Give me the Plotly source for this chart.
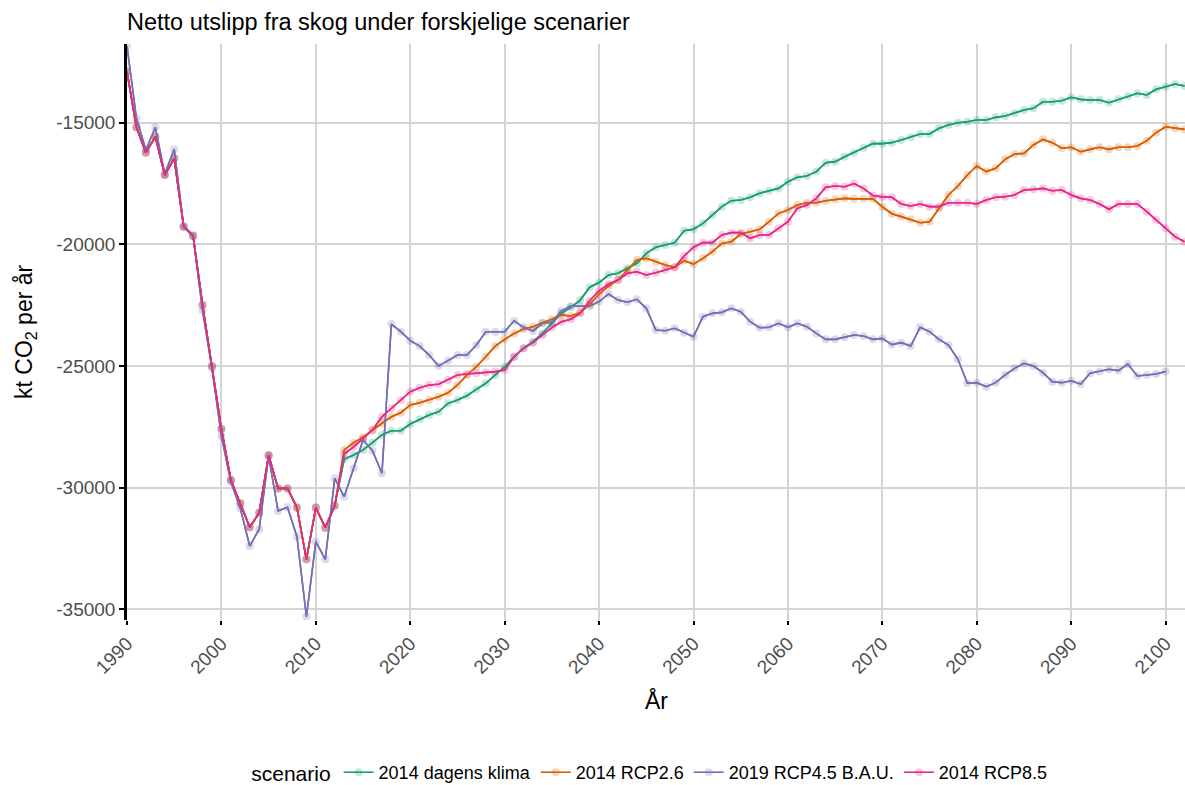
import plotly.graph_objects as go

# ---- data -------------------------------------------------------------
hist_years = list(range(1990, 2013))
future_years = list(range(2013, 2103))
bau_years = list(range(1990, 2101))

# shared historical series (1990-2012) for the 2014 projections
hist_2014 = [
    -12900, -15190, -16230, -15575, -17150, -16465, -19275, -19660, -22490, -25000,
    -27590, -29685, -30640, -31630, -31030, -28670, -30030, -30030, -30820, -32945,
    -30820, -31645, -30740,
]

dagens_klima = [
    -28835, -28660, -28450, -28150, -27835, -27660, -27660, -27385, -27190, -27015,
    -26880, -26535, -26400, -26220, -25960, -25710, -25370, -25030, -24620, -24270,
    -24000, -23660, -23245, -22835, -22590, -22290, -21760, -21570, -21260, -21190,
    -20985, -20780, -20370, -20120, -20030, -19930, -19440, -19380, -19135, -18795,
    -18450, -18205, -18175, -18065, -17900, -17795, -17700, -17425, -17245, -17190,
    -17010, -16645, -16600, -16400, -16230, -16030, -15860, -15860, -15820, -15710,
    -15600, -15465, -15465, -15230, -15095, -15000, -14960, -14890, -14890, -14780,
    -14725, -14615, -14480, -14410, -14140, -14140, -14095, -13955, -14040, -14070,
    -14070, -14180, -14040, -13900, -13790, -13860, -13625, -13520, -13410, -13490,
]

rcp26 = [
    -28450, -28150, -27930, -27630, -27355, -27085, -26920, -26600, -26510, -26400,
    -26260, -26100, -25780, -25370, -25030, -24620, -24180, -23905, -23660, -23480,
    -23385, -23220, -23080, -22900, -22945, -22800, -22470, -22050, -21710, -21465,
    -21055, -20645, -20575, -20710, -20850, -20945, -20670, -20810, -20575, -20300,
    -19960, -19890, -19575, -19480, -19380, -19070, -18725, -18590, -18385, -18290,
    -18290, -18205, -18150, -18110, -18130, -18130, -18130, -18460, -18740, -18860,
    -18970, -19110, -19070, -18520, -17970, -17600, -17150, -16780, -17010, -16875,
    -16505, -16285, -16260, -15915, -15685, -15820, -16050, -16010, -16190, -16095,
    -16010, -16095, -16010, -16010, -15960, -15740, -15410, -15165, -15230, -15275,
]

rcp85 = [
    -28620, -28320, -27975, -27630, -27085, -26740, -26400, -26055, -25890, -25780,
    -25750, -25575, -25370, -25330, -25300, -25270, -25230, -25165, -24620, -24270,
    -24040, -23725, -23420, -23180, -23080, -22835, -22320, -21910, -21630, -21465,
    -21190, -21125, -21260, -21165, -21055, -20945, -20480, -20120, -19930, -19930,
    -19615, -19520, -19520, -19750, -19615, -19615, -19340, -19070, -18520, -18385,
    -18110, -17655, -17600, -17630, -17500, -17700, -17990, -18050, -18065, -18340,
    -18425, -18340, -18450, -18450, -18290, -18290, -18290, -18340, -18175, -18065,
    -18040, -17970, -17765, -17740, -17700, -17795, -17765, -17970, -18110, -18175,
    -18340, -18560, -18340, -18340, -18340, -18655, -19000, -19340, -19685, -19890,
]

rcp45_bau_2019 = [
    -11850, -14820, -16120, -15190, -17100, -16095, -19250, -19620, -22720, -25100,
    -27877, -29770, -30850, -32400, -31710, -28700, -30960, -30810, -32015, -35300,
    -32220, -32945, -29615, -30370, -29205, -28040, -28480, -29410, -23274, -23590,
    -23960, -24180, -24550, -25000, -24780, -24550, -24550, -24140, -23590, -23590,
    -23590, -23140, -23410, -23560, -23245, -23200, -22730, -22535, -22535, -22545,
    -22350, -22040, -22290, -22380, -22260, -22630, -23520, -23550, -23450, -23630,
    -23795, -22975, -22835, -22795, -22630, -22770, -23180, -23425, -23410, -23245,
    -23410, -23245, -23385, -23660, -23905, -23905, -23820, -23725, -23765, -23905,
    -23865, -24120, -24040, -24180, -23410, -23590, -23905, -24140, -24725, -25710,
    -25685, -25850, -25685, -25370, -25095, -24890, -25000, -25275, -25645, -25685,
    -25605, -25740, -25300, -25230, -25135, -25190, -24920, -25410, -25370, -25330,
    -25230,
]

y_ticks = [-35000, -30000, -25000, -20000, -15000]
x_ticks = list(range(1990, 2101, 10))

# ---- series -------------------------------------------------------------
series = [
    ("2014 dagens klima", hist_years + future_years, hist_2014 + dagens_klima, "#1B9E77"),
    ("2014 RCP2.6", hist_years + future_years, hist_2014 + rcp26, "#D95F02"),
    ("2019 RCP4.5 B.A.U.", bau_years, rcp45_bau_2019, "#7570B3"),
    ("2014 RCP8.5", hist_years + future_years, hist_2014 + rcp85, "#E7298A"),
]

fig = go.Figure()

# faint point markers underneath, carrying the legend entries
for name, xs, ys, col in series:
    fig.add_trace(go.Scatter(
        x=xs, y=ys, name=name, mode="lines+markers",
        line=dict(color=col, width=1.6),
        marker=dict(color=col, size=8, opacity=0.25, line=dict(width=0)),
        legendgroup=name, showlegend=True,
    ))

# solid lines drawn on top of the markers
for name, xs, ys, col in series:
    fig.add_trace(go.Scatter(
        x=xs, y=ys, mode="lines", line=dict(color=col, width=1.6),
        legendgroup=name, showlegend=False, hoverinfo="skip",
    ))

FONT = "Liberation Sans, Arial, sans-serif"
TICK_COL = "#4D4D4D"
GRID_COL = "#D4D4D4"

fig.update_layout(
    width=1185, height=785,
    margin=dict(l=127, r=0, t=44, b=165, autoexpand=False),
    paper_bgcolor="white", plot_bgcolor="white",
    font=dict(family=FONT, size=18, color="black"),
    title=dict(
        text="Netto utslipp fra skog under forskjelige scenarier",
        x=0, xref="paper", xanchor="left",
        y=1 - 22 / 785, yref="container", yanchor="middle",
        font=dict(family=FONT, size=23.5, color="black"),
    ),
    showlegend=True,
    legend=dict(
        orientation="h", x=0.495, xanchor="center", y=-(773 - 620) / 576, yanchor="middle",
        title=dict(text="scenario", font=dict(size=21, color="black"), side="left"),
        font=dict(size=18, color="black"),
        itemwidth=30, tracegroupgap=0,
    ),
    xaxis=dict(
        range=[1990, 2102.05], tickvals=x_ticks, ticktext=[str(v) for v in x_ticks],
        tickangle=-45, tickfont=dict(size=19, color=TICK_COL),
        ticks="outside", ticklen=4, tickwidth=2, tickcolor="black",
        showgrid=True, gridcolor=GRID_COL, gridwidth=1.5,
        showline=False, zeroline=False, automargin=False,
    ),
    yaxis=dict(
        range=[-35440, -11765], tickvals=y_ticks, ticktext=[str(v) for v in y_ticks],
        tickfont=dict(size=19, color=TICK_COL),
        ticks="outside", ticklen=5, tickwidth=2, tickcolor="black",
        showgrid=True, gridcolor=GRID_COL, gridwidth=1.5,
        showline=True, linecolor="black", linewidth=2.5, zeroline=False, automargin=False,
    ),
    annotations=[
        dict(text="År", xref="paper", yref="paper", x=0.5, y=-(700 - 620) / 576,
             xanchor="center", yanchor="middle", showarrow=False,
             font=dict(size=23, color="black")),
        dict(text="kt CO<sub>2</sub> per år", xref="paper", yref="paper",
             x=(25 - 127) / 1058, y=0.5, textangle=-90,
             xanchor="center", yanchor="middle", showarrow=False,
             font=dict(size=23, color="black")),
    ],
)

fig.write_html("out.html")
